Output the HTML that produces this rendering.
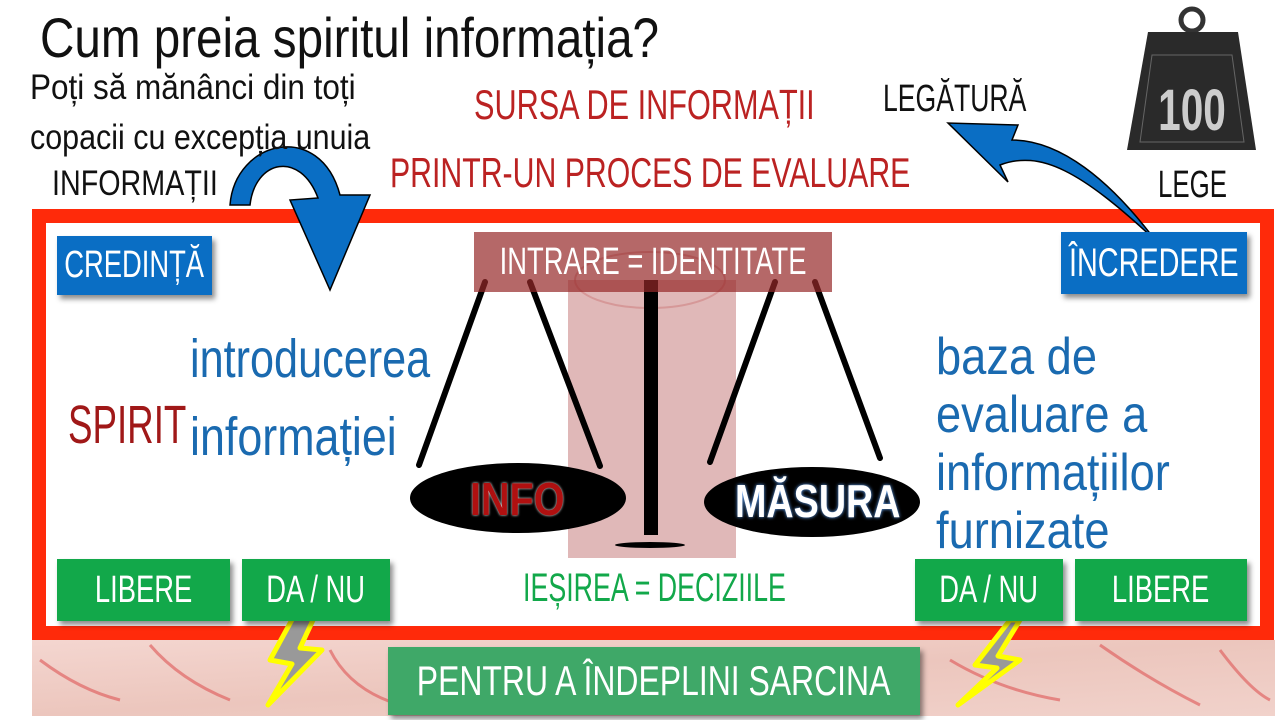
<!DOCTYPE html>
<html><head><meta charset="utf-8"><style>
body{margin:0;width:1280px;height:720px;overflow:hidden;background:#fff;position:relative;font-family:"Liberation Sans",sans-serif}
.t{position:absolute;white-space:nowrap;line-height:1;transform-origin:0 0}
.box{position:absolute;display:flex;align-items:center;justify-content:center;color:#fff;box-shadow:3px 4px 5px rgba(0,0,0,.45);white-space:nowrap}
.box span{display:inline-block;transform:scaleX(.72)}
</style></head><body>
<svg width="1280" height="720" style="position:absolute;left:0;top:0">
<defs>
<linearGradient id="tex" x1="0" x2="1" y1="0" y2="1"><stop offset="0" stop-color="#f4d6d0"/><stop offset=".5" stop-color="#ecc6bd"/><stop offset="1" stop-color="#f1d2cb"/></linearGradient>
</defs>
<rect x="32" y="640" width="1243" height="76" fill="url(#tex)"/>
<g stroke="#d55" stroke-width="3" fill="none" opacity=".6">
<path d="M40 660 Q80 690 120 700 M150 645 Q180 680 230 700 M330 650 Q350 690 400 705 M950 660 Q1000 690 1060 700 M1100 645 Q1150 680 1200 705 M1220 650 Q1250 690 1270 700"/></g>
<rect x="39" y="216" width="1228" height="417" fill="#fff" stroke="#ff2a0a" stroke-width="14"/>
<rect x="568" y="280" width="168" height="278" fill="#c88" opacity=".6"/>
<ellipse cx="650" cy="280" rx="75" ry="28" fill="none" stroke="#c77" stroke-width="2" opacity=".5"/>
<rect x="644" y="280" width="14" height="255" fill="#000"/>
<ellipse cx="650" cy="545" rx="35" ry="3" fill="#000"/>
<g stroke="#000" stroke-width="6" stroke-linecap="round">
<line x1="485" y1="282" x2="419" y2="465"/><line x1="530" y1="282" x2="600" y2="466"/>
<line x1="775" y1="282" x2="710" y2="462"/><line x1="815" y1="282" x2="880" y2="458"/></g>
<ellipse cx="518" cy="498" rx="108" ry="35" fill="#000"/>
<ellipse cx="812" cy="502" rx="108" ry="35" fill="#000"/>
<path d="M230 205 C235 140 320 120 340 195 L370 195 L330 290 L290 200 L318 198 C300 150 255 160 250 205 Z" fill="#0a6ec4" stroke="#000" stroke-width="1.5"/>
<path d="M1155 240 C1080 170 1040 150 1000 165 L1008 182 L948 123 L1018 125 L1012 140 C1060 140 1110 180 1155 240 Z" fill="#0a6ec4" stroke="#000" stroke-width="1.5"/>
<circle cx="1192" cy="20" r="11" fill="none" stroke="#333" stroke-width="5"/>
<path d="M1148 32 L1238 32 L1256 150 L1127 150 Z" fill="#2a2a2a"/>
<path d="M1152 55 L1232 55 L1244 142 L1140 142 Z" fill="none" stroke="#666" stroke-width="1"/>
<text x="1192" y="130" font-family="Liberation Sans" font-weight="bold" font-size="58" fill="#ccc" text-anchor="middle" transform="translate(1192 0) scale(.7 1) translate(-1192 0)">100</text>
<g fill="#999" stroke="#ff0" stroke-width="5" stroke-linejoin="round">
<path d="M300 605 L270 660 L292 664 L268 705 L322 650 L300 648 L320 605 Z"/>
<path d="M1010 620 L975 665 L997 668 L958 705 L1020 660 L998 656 L1020 620 Z"/></g>
</svg>
<div class="t" style="left:40px;top:10px;font-size:56px;color:#111;transform:scaleX(.85)">Cum preia spiritul informația?</div>
<div class="t" style="left:30px;top:70px;font-size:35px;color:#111;transform:scaleX(.9)">Poți să mănânci din toți</div>
<div class="t" style="left:30px;top:120px;font-size:35px;color:#111;transform:scaleX(.87)">copacii cu excepția unuia</div>
<div class="t" style="left:52px;top:166px;font-size:35px;color:#111;transform:scaleX(.82)">INFORMAȚII</div>
<div class="t" style="left:474px;top:84px;font-size:42px;color:#b22;transform:scaleX(.73)">SURSA DE INFORMAȚII</div>
<div class="t" style="left:390px;top:152px;font-size:42px;color:#b22;transform:scaleX(.72)">PRINTR-UN PROCES DE EVALUARE</div>
<div class="t" style="left:883px;top:80px;font-size:38px;color:#111;transform:scaleX(.7)">LEGĂTURĂ</div>
<div class="t" style="left:1158px;top:166px;font-size:38px;color:#111;transform:scaleX(.68)">LEGE</div>
<div class="box" style="left:57px;top:236px;width:155px;height:59px;background:#0a6ec4;font-size:38px"><span>CREDINȚĂ</span></div>
<div class="box" style="left:1061px;top:232px;width:186px;height:62px;background:#0a6ec4;font-size:40px"><span>ÎNCREDERE</span></div>
<div class="box" style="left:474px;top:232px;width:358px;height:60px;background:rgba(150,40,40,.7);box-shadow:none;font-size:38px"><span>INTRARE = IDENTITATE</span></div>
<div class="t" style="left:190px;top:332px;font-size:54px;color:#1a6ab0;transform:scaleX(.8)">introducerea</div>
<div class="t" style="left:190px;top:410px;font-size:54px;color:#1a6ab0;transform:scaleX(.83)">informației</div>
<div class="t" style="left:68px;top:398px;font-size:54px;color:#a01818;transform:scaleX(.68)">SPIRIT</div>
<div class="t" style="left:936px;top:328px;font-size:52px;color:#1a6ab0;line-height:58px;transform:scaleX(.87)">baza de<br>evaluare a<br>informațiilor<br>furnizate</div>
<div class="t" style="left:470px;top:476px;font-size:46px;font-weight:bold;color:#b01010;text-shadow:0 0 3px #fff;transform:scaleX(.86)">INFO</div>
<div class="t" style="left:735px;top:478px;font-size:46px;font-weight:bold;color:#fff;text-shadow:0 0 4px #6af;transform:scaleX(.82)">MĂSURA</div>
<div class="box" style="left:57px;top:559px;width:173px;height:62px;background:#12a84a;font-size:38px"><span>LIBERE</span></div>
<div class="box" style="left:242px;top:559px;width:148px;height:62px;background:#12a84a;font-size:38px"><span>DA / NU</span></div>
<div class="box" style="left:915px;top:559px;width:148px;height:62px;background:#12a84a;font-size:38px"><span>DA / NU</span></div>
<div class="box" style="left:1075px;top:559px;width:172px;height:62px;background:#12a84a;font-size:38px"><span>LIBERE</span></div>
<div class="t" style="left:523px;top:568px;font-size:40px;color:#12a84a;transform:scaleX(.67)">IEȘIREA = DECIZIILE</div>
<div class="box" style="left:388px;top:647px;width:532px;height:68px;background:#3fa868;font-size:42px"><span style="transform:scaleX(.76)">PENTRU A ÎNDEPLINI SARCINA</span></div>
</body></html>
